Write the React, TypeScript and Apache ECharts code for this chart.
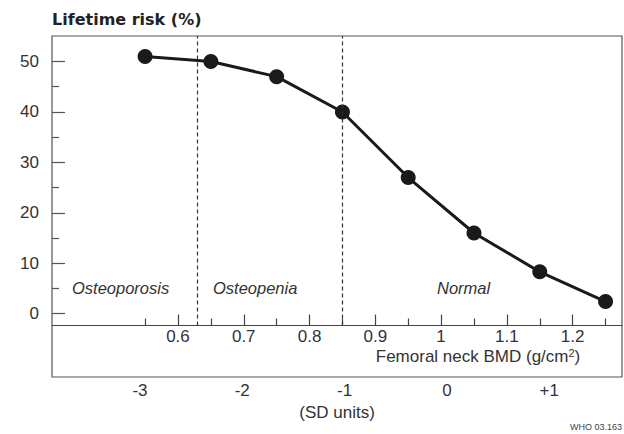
import React, { useEffect, useRef } from "react";
import * as echarts from "echarts";

const bmd = [0.55, 0.65, 0.75, 0.85, 0.95, 1.05, 1.15, 1.25];
const risk = [51, 50, 47, 40, 27, 16, 8.3, 2.4];
const bmdTickLabels = [0.6, 0.7, 0.8, 0.9, 1.0, 1.1, 1.2];
const bmdMinorTicks = [0.55, 0.65, 0.75, 0.85, 0.95, 1.05, 1.15, 1.25];
const sdLabels = [-3, -2, -1, 0, 1];
const yLabels = [0, 10, 20, 30, 40, 50];
const yMinorTicks = [5, 15, 25, 35, 45];
const thresholds = [0.625, 0.85];
const regionLabels = ["Osteoporosis", "Osteopenia", "Normal"];

const FONT = "Liberation Sans, Arial, sans-serif";
const TXT = "#333";

export default function App() {
  const ref = useRef<HTMLDivElement>(null);
  useEffect(() => {
    document.body.style.margin = "0";
    const chart = echarts.init(ref.current!, null, { renderer: "svg" });
    const xMin = 0.4085, xMax = 1.275;
    const yMin = -2.34, yMax = 55.06;
    chart.setOption({
      animation: false,
      grid: { left: 52, right: 2, top: 36, bottom: 108.5, containLabel: false },
      xAxis: [
        {
          type: "value", min: xMin, max: xMax, position: "bottom", offset: 0,
          axisLine: { show: true, onZero: false, lineStyle: { color: "#444", width: 1.2 } },
          axisTick: { show: true, inside: true, length: 11, customValues: bmdTickLabels, lineStyle: { color: "#444", width: 1.2 } },
          axisLabel: { show: true, customValues: bmdTickLabels, margin: 3, fontSize: 17, lineHeight: 16, fontFamily: FONT, color: TXT, formatter: (v: number) => String(v) },
          splitLine: { show: false },
        },
        {
          type: "value", min: xMin, max: xMax, position: "bottom", offset: 0,
          axisLine: { show: false, onZero: false },
          axisTick: { show: true, inside: true, length: 7, customValues: bmdMinorTicks, lineStyle: { color: "#444", width: 1.2 } },
          axisLabel: { show: false },
          splitLine: { show: false },
        },
        {
          type: "value", min: -3.86, max: 1.712, position: "bottom", offset: 51.5,
          axisLine: { show: false, onZero: false },
          axisTick: { show: false },
          axisLabel: { show: true, customValues: sdLabels, margin: 5, fontSize: 17, fontFamily: FONT, color: TXT, formatter: (v: number) => (v > 0 ? "+" + v : String(v)) },
          splitLine: { show: false },
          name: "(SD units)", nameLocation: "middle", nameGap: 26,
          nameTextStyle: { fontSize: 17, fontFamily: FONT, color: TXT },
        },
      ],
      yAxis: [
        {
          type: "value", min: yMin, max: yMax, position: "left",
          axisLine: { show: false, onZero: false },
          axisTick: { show: true, inside: true, length: 13, customValues: yLabels, lineStyle: { color: "#555", width: 1.2 } },
          axisLabel: { show: true, customValues: yLabels, margin: 13, fontSize: 17, fontFamily: FONT, color: TXT },
          splitLine: { show: false },
        },
        {
          type: "value", min: yMin, max: yMax, position: "left",
          axisLine: { show: false, onZero: false },
          axisTick: { show: true, inside: true, length: 7, customValues: yMinorTicks, lineStyle: { color: "#555", width: 1.2 } },
          axisLabel: { show: false },
          splitLine: { show: false },
        },
      ],
      series: [
        {
          type: "line", xAxisIndex: 0, yAxisIndex: 0,
          data: bmd.map((x, i) => [x, risk[i]]),
          symbol: "circle", symbolSize: 15,
          lineStyle: { color: "#1a1a1a", width: 3 },
          itemStyle: { color: "#1a1a1a" },
          markLine: {
            silent: true, symbol: ["none", "none"], label: { show: false },
            lineStyle: { type: [4, 3], color: "#333", width: 1.2 },
            data: thresholds.map((v) => ({ xAxis: v })),
          },
        },
      ],
      graphic: [
        { type: "rect", shape: { x: 52, y: 36, width: 570, height: 341 }, style: { fill: "none", stroke: "#555", lineWidth: 1.2 }, silent: true, z: 10 },
        { type: "text", x: 52, y: 19, style: { text: "Lifetime risk (%)", fontSize: 16, fontWeight: "bold", fontFamily: "DejaVu Sans, sans-serif", fill: "#222", verticalAlign: "middle", align: "left" } },
        { type: "text", x: 72, y: 288, style: { text: regionLabels[0], fontSize: 16.5, fontStyle: "italic", fontFamily: FONT, fill: TXT, verticalAlign: "middle", align: "left" } },
        { type: "text", x: 213, y: 288, style: { text: regionLabels[1], fontSize: 16.5, fontStyle: "italic", fontFamily: FONT, fill: TXT, verticalAlign: "middle", align: "left" } },
        { type: "text", x: 437, y: 288, style: { text: regionLabels[2], fontSize: 16.5, fontStyle: "italic", fontFamily: FONT, fill: TXT, verticalAlign: "middle", align: "left" } },
        {
          type: "text", x: 478, y: 356,
          style: {
            text: "{a|Femoral neck BMD (g/cm}{s|2}{a|)}",
            align: "center", verticalAlign: "middle",
            rich: {
              a: { fontSize: 17, fontFamily: FONT, fill: TXT, lineHeight: 17, verticalAlign: "bottom" },
              s: { fontSize: 11, fontFamily: FONT, fill: TXT, lineHeight: 17, verticalAlign: "top" },
            },
          },
        },
        { type: "text", x: 622, y: 427, style: { text: "WHO 03.163", fontSize: 9, fontFamily: FONT, fill: "#444", align: "right", verticalAlign: "middle" } },
      ],
    });
    return () => chart.dispose();
  }, []);
  return <div ref={ref} style={{ width: 624, height: 434 }} />;
}
